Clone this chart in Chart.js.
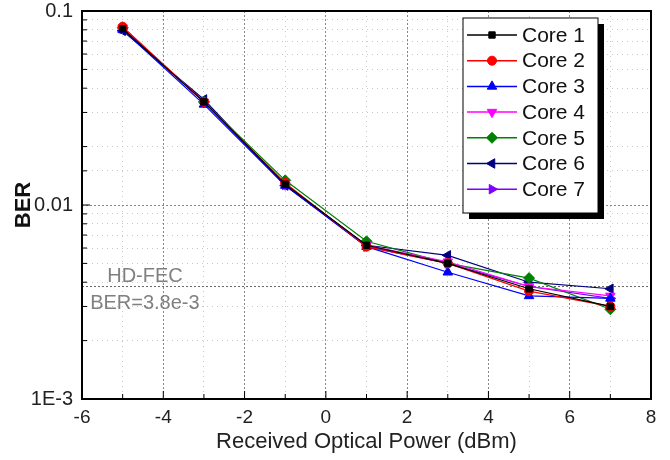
<!DOCTYPE html>
<html>
<head>
<meta charset="utf-8">
<script src="https://cdn.jsdelivr.net/npm/chart.js@4.4.1/dist/chart.umd.min.js"></script>
<style>
  html, body { margin: 0; padding: 0; background: #fff; }
  #wrap { width: 670px; height: 460px; }
</style>
</head>
<body>
<div id="wrap"><canvas id="berChart" width="670" height="460"></canvas></div>
<script>
// received optical power (dBm) and measured BER per core
const powers = [-5, -3, -1, 1, 3, 5, 7];
const core1 = [0.081, 0.034, 0.0128, 0.0062, 0.0050, 0.0037, 0.0030];
const core2 = [0.083, 0.034, 0.0130, 0.0061, 0.0050, 0.0036, 0.0030];
const core3 = [0.080, 0.033, 0.0126, 0.0061, 0.0045, 0.0034, 0.0033];
const core4 = [0.082, 0.034, 0.0127, 0.0062, 0.0051, 0.0038, 0.0034];
const core5 = [0.082, 0.034, 0.0134, 0.0065, 0.0050, 0.0042, 0.0029];
const core6 = [0.079, 0.035, 0.0126, 0.0062, 0.0055, 0.0040, 0.0037];
const core7 = [0.081, 0.034, 0.0127, 0.0061, 0.0050, 0.0038, 0.0033];
const coreNames = ['Core 1', 'Core 2', 'Core 3', 'Core 4', 'Core 5', 'Core 6', 'Core 7'];
const fecLimit = 3.8e-3;
const yTickLabels = { '0.1': '0.1', '0.01': '0.01', '0.001': '1E-3' };

const series = [core1, core2, core3, core4, core5, core6, core7];
const colors = ['#000000', '#ff0000', '#0000ff', '#ff00ff', '#008000', '#000080', '#8000ff'];
const markers = [
    { style: 'rect', rot: 0, r: 4.5 },
    { style: 'circle', rot: 0, r: 4.5 },
    { style: 'triangle', rot: 0, r: 5.5 },
    { style: 'triangle', rot: 180, r: 5.5 },
    { style: 'rectRot', rot: 0, r: 5.5 },
    { style: 'triangle', rot: -90, r: 5.5 },
    { style: 'triangle', rot: 90, r: 5.5 }
];

const datasets = series.map((vals, i) => ({
    label: coreNames[i],
    data: vals.map((v, k) => ({ x: powers[k], y: v })),
    borderColor: colors[i],
    backgroundColor: colors[i],
    borderWidth: 1.2,
    pointStyle: markers[i].style,
    pointRotation: markers[i].rot,
    pointRadius: markers[i].r,
    pointBorderWidth: 1,
    tension: 0
}));

const font = 'Liberation Sans, Arial, sans-serif';

function isMajorLog(v) {
    const e = Math.log10(v);
    return Math.abs(e - Math.round(e)) < 1e-6;
}

// frame, inner tick marks, HD-FEC line and the boxed legend
const decorations = {
    id: 'decorations',
    beforeDatasetsDraw(chart) {
        const { ctx, chartArea: a, scales: { x, y } } = chart;
        const yf = y.getPixelForValue(fecLimit);
        ctx.save();
        ctx.strokeStyle = '#666';
        ctx.lineWidth = 1;
        ctx.setLineDash([2, 2]);
        ctx.beginPath();
        ctx.moveTo(a.left, yf);
        ctx.lineTo(a.right, yf);
        ctx.stroke();
        ctx.setLineDash([]);
        ctx.fillStyle = '#808080';
        ctx.font = '20px ' + font;
        ctx.textBaseline = 'middle';
        ctx.fillText('HD-FEC', x.getPixelForValue(-5.38), yf - 10);
        ctx.fillText('BER=3.8e-3', x.getPixelForValue(-5.8), yf + 17);
        ctx.restore();
    },
    afterDatasetsDraw(chart) {
        const { ctx, chartArea: a, scales: { x, y } } = chart;
        ctx.save();
        ctx.strokeStyle = '#000';
        ctx.lineWidth = 2;
        ctx.strokeRect(a.left, a.top, a.right - a.left, a.bottom - a.top);
        ctx.lineWidth = 1;
        ctx.beginPath();
        y.ticks.forEach(t => {
            const py = y.getPixelForValue(t.value);
            const len = isMajorLog(t.value) ? 8 : 5;
            ctx.moveTo(a.left, py); ctx.lineTo(a.left + len, py);
        });
        x.ticks.forEach(t => {
            const px = x.getPixelForValue(t.value);
            const len = t.value % 2 === 0 ? 8 : 5;
            ctx.moveTo(px, a.bottom); ctx.lineTo(px, a.bottom - len);
        });
        ctx.stroke();

        // legend
        const lx = 463, ly = 18, lw = 135, lh = 195, rowH = 25.7;
        ctx.fillStyle = '#000';
        ctx.fillRect(lx + 6, ly + 6, lw, lh);
        ctx.fillStyle = '#fff';
        ctx.fillRect(lx, ly, lw, lh);
        ctx.strokeStyle = '#000';
        ctx.lineWidth = 1;
        ctx.strokeRect(lx, ly, lw, lh);
        ctx.font = '21px ' + font;
        ctx.textBaseline = 'middle';
        chart.data.datasets.forEach((ds, i) => {
            const cy = ly + 17 + i * rowH;
            ctx.strokeStyle = ds.borderColor;
            ctx.fillStyle = ds.backgroundColor;
            ctx.lineWidth = 1.5;
            ctx.beginPath();
            ctx.moveTo(lx + 4, cy); ctx.lineTo(lx + 54, cy);
            ctx.stroke();
            ctx.lineWidth = 1;
            Chart.helpers.drawPoint(ctx, {
                pointStyle: ds.pointStyle, rotation: ds.pointRotation,
                radius: ds.pointRadius, borderWidth: 1
            }, lx + 29, cy);
            ctx.fillStyle = '#111';
            ctx.fillText(ds.label, lx + 59, cy + 1);
        });
        ctx.restore();
    }
};

const ctx = document.getElementById('berChart').getContext('2d');
const berChart = new Chart(ctx, {
    type: 'line',
    data: { datasets: datasets },
    options: {
        responsive: false,
        animation: false,
        layout: { padding: { left: 0, top: 11, right: 19, bottom: 0 } },
        plugins: { legend: { display: false }, tooltip: { enabled: false } },
        scales: {
            x: {
                type: 'linear',
                min: -6, max: 8,
                afterFit(scale) { scale.height = 61; scale.paddingRight = 0; },
                ticks: {
                    stepSize: 1,
                    color: '#222',
                    font: { family: font, size: 19 },
                    padding: 7,
                    maxRotation: 0,
                    autoSkip: false,
                    callback: v => (v % 2 === 0 ? String(v) : '')
                },
                grid: {
                    drawTicks: false,
                    lineWidth: 1,
                    color: c => (c.tick && c.tick.value % 2 === 0 ? '#888' : '#c8c8c8')
                },
                border: {
                    display: false,
                    dash: c => (c.tick && c.tick.value % 2 === 0 ? [2, 2] : [1, 4])
                },
                title: {
                    display: true,
                    text: 'Received Optical Power (dBm)',
                    color: '#222',
                    font: { family: font, size: 22 },
                    padding: { top: 0, bottom: 5 }
                }
            },
            y: {
                type: 'logarithmic',
                min: 0.001, max: 0.1,
                afterFit(scale) { scale.width = 82; scale.paddingTop = 0; scale.paddingBottom = 0; },
                ticks: {
                    color: '#222',
                    font: { family: font, size: 20 },
                    padding: 9,
                    autoSkip: false,
                    callback: v => yTickLabels[String(+v.toPrecision(3))] || ''
                },
                grid: {
                    drawTicks: false,
                    lineWidth: 1,
                    color: c => (c.tick && isMajorLog(c.tick.value) ? '#888' : '#c8c8c8')
                },
                border: {
                    display: false,
                    dash: c => (c.tick && isMajorLog(c.tick.value) ? [2, 2] : [1, 4])
                },
                title: {
                    display: true,
                    text: 'BER',
                    color: '#111',
                    font: { family: font, size: 22, weight: 'bold' },
                    padding: { top: 11, bottom: 0 }
                }
            }
        }
    },
    plugins: [decorations]
});
</script>
</body>
</html>
